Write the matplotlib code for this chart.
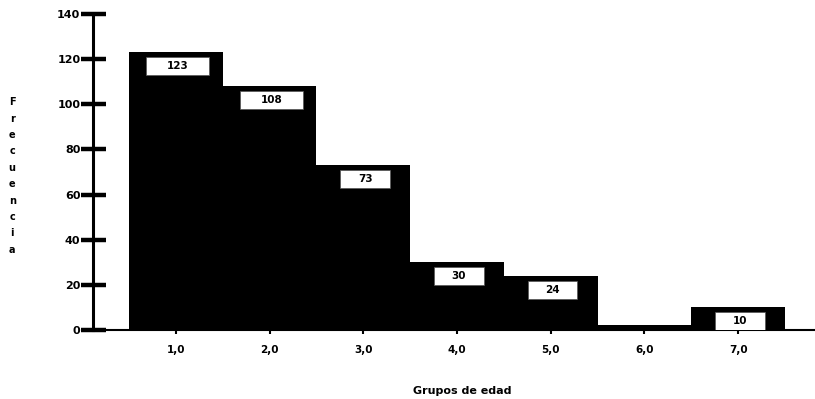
import matplotlib
matplotlib.use("Agg")
import matplotlib.pyplot as plt
from matplotlib.patches import Rectangle

# grupos de edad y frecuencias
grupos = [1.0, 2.0, 3.0, 4.0, 5.0, 6.0, 7.0]
frecuencias = [123, 108, 73, 30, 24, 2, 10]
etiquetas_x = ["1,0", "2,0", "3,0", "4,0", "5,0", "6,0", "7,0"]
yticks = [0, 20, 40, 60, 80, 100, 120, 140]

plt.rcParams["font.family"] = ["DejaVu Sans"]

fig = plt.figure(figsize=(8.15, 3.99), dpi=100)
ax = fig.add_axes([0.114, 0.173, 0.886, 0.792])

ax.bar(grupos, frecuencias, width=1.0, color="black", edgecolor="black", linewidth=0)

# cajas blancas con el valor de cada barra
for g, f in zip(grupos, frecuencias):
    if f < 5:
        continue
    txt = str(f)
    w = 0.25 + 0.14 * len(txt)
    top = f - 2.2
    h = 8.0
    ax.add_patch(Rectangle((g - w / 2 + 0.02, top - h), w, h, facecolor="white",
                           edgecolor="#555555", linewidth=0.5, zorder=3))
    ax.text(g + 0.02, top - h / 2, txt, ha="center", va="center", fontsize=7.5,
            fontweight="bold", zorder=4)

ax.set_xlim(0.114, 7.82)
ax.set_ylim(0, 140)
ax.set_yticks(yticks)
ax.set_xticks(grupos)
ax.set_xticklabels(etiquetas_x)

for s in ["top", "right"]:
    ax.spines[s].set_visible(False)
ax.spines["left"].set_linewidth(2.2)
ax.spines["bottom"].set_linewidth(1.5)

ax.tick_params(axis="y", direction="inout", length=18, width=3.2, pad=0,
               labelsize=8)
ax.tick_params(axis="x", direction="out", length=3, width=1.5, pad=8,
               labelsize=7.5)
for lab in ax.get_xticklabels() + ax.get_yticklabels():
    lab.set_fontweight("bold")

fig.text(0.567, 0.02, "Grupos de edad", ha="center", va="center",
         fontsize=8, fontweight="bold")
fig.text(0.015, 0.559, "\n".join("Frecuencia"), ha="center", va="center",
         fontsize=7, fontweight="heavy", linespacing=1.8)

fig.savefig("out.png", dpi=100)
